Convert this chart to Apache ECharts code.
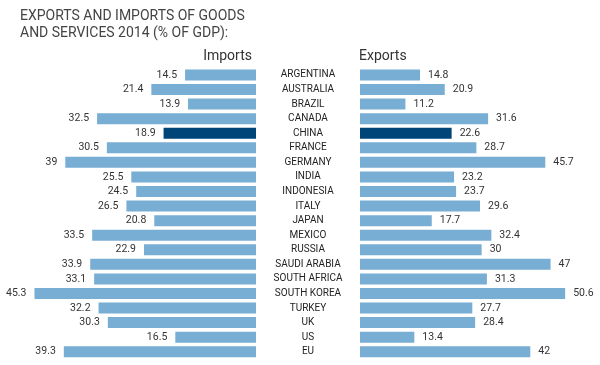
<!DOCTYPE html>
<html>
<head>
<meta charset="utf-8">
<script src="https://cdn.jsdelivr.net/npm/echarts@6/dist/echarts.min.js"></script>
<style>
html,body{margin:0;padding:0;background:#fff;}
#c{width:600px;height:365px;}
</style>
</head>
<body>
<div id="c"></div>
<script>
const categories = ['ARGENTINA','AUSTRALIA','BRAZIL','CANADA','CHINA','FRANCE','GERMANY','INDIA','INDONESIA','ITALY','JAPAN','MEXICO','RUSSIA','SAUDI ARABIA','SOUTH AFRICA','SOUTH KOREA','TURKEY','UK','US','EU'];
const imports = [14.5,21.4,13.9,32.5,18.9,30.5,39,25.5,24.5,26.5,20.8,33.5,22.9,33.9,33.1,45.3,32.2,30.3,16.5,39.3];
const exports_ = [14.8,20.9,11.2,31.6,22.6,28.7,45.7,23.2,23.7,29.6,17.7,32.4,30,47,31.3,50.6,27.7,28.4,13.4,42];
const highlight = 'CHINA';

const FONT = "Roboto, 'Liberation Sans', Arial, sans-serif";
const LIGHT = '#78aed3';
const DARK = '#004578';

function mk(vals){
  return vals.map((v,i)=>({value:v, itemStyle:{color: categories[i]===highlight?DARK:LIGHT}}));
}

const chart = echarts.init(document.getElementById('c'), null, {renderer:'canvas'});
chart.setOption({
  animation:false,
  backgroundColor:'#fff',
  title:{
    text:'EXPORTS AND IMPORTS OF GOODS\nAND SERVICES 2014 (% OF GDP):',
    left:15, top:3,
    textStyle:{fontFamily:FONT, fontSize:14, fontWeight:'normal', color:'#444', lineHeight:17}
  },
  graphic:[
    {type:'text', right:348, top:49, style:{text:'Imports', font:"14px Roboto, 'Liberation Sans', Arial, sans-serif", fill:'#333'}},
    {type:'text', left:359, top:49, style:{text:'Exports', font:"14px Roboto, 'Liberation Sans', Arial, sans-serif", fill:'#333'}}
  ],
  grid:[
    {left:11.5, right:344, top:67.7, bottom:6},
    {left:360, right:17, top:67.7, bottom:6}
  ],
  xAxis:[
    {gridIndex:0, type:'value', min:0, max:50, inverse:true, show:false},
    {gridIndex:1, type:'value', min:0, max:55, show:false}
  ],
  yAxis:[
    {gridIndex:0, type:'category', data:categories, inverse:true, position:'right',
     axisLine:{show:false}, axisTick:{show:false}, splitLine:{show:false},
     axisLabel:{show:true, align:'center', margin:52, fontFamily:FONT, fontSize:10, color:'#222'}},
    {gridIndex:1, type:'category', data:categories, inverse:true, show:false}
  ],
  series:[
    {type:'bar', xAxisIndex:0, yAxisIndex:0, data:mk(imports), barWidth:11,
     label:{show:true, position:'left', distance:8, fontFamily:FONT, fontSize:10.5, color:'#333'}},
    {type:'bar', xAxisIndex:1, yAxisIndex:1, data:mk(exports_), barWidth:11,
     label:{show:true, position:'right', distance:8, fontFamily:FONT, fontSize:10.5, color:'#333'}}
  ]
});
</script>
</body>
</html>
